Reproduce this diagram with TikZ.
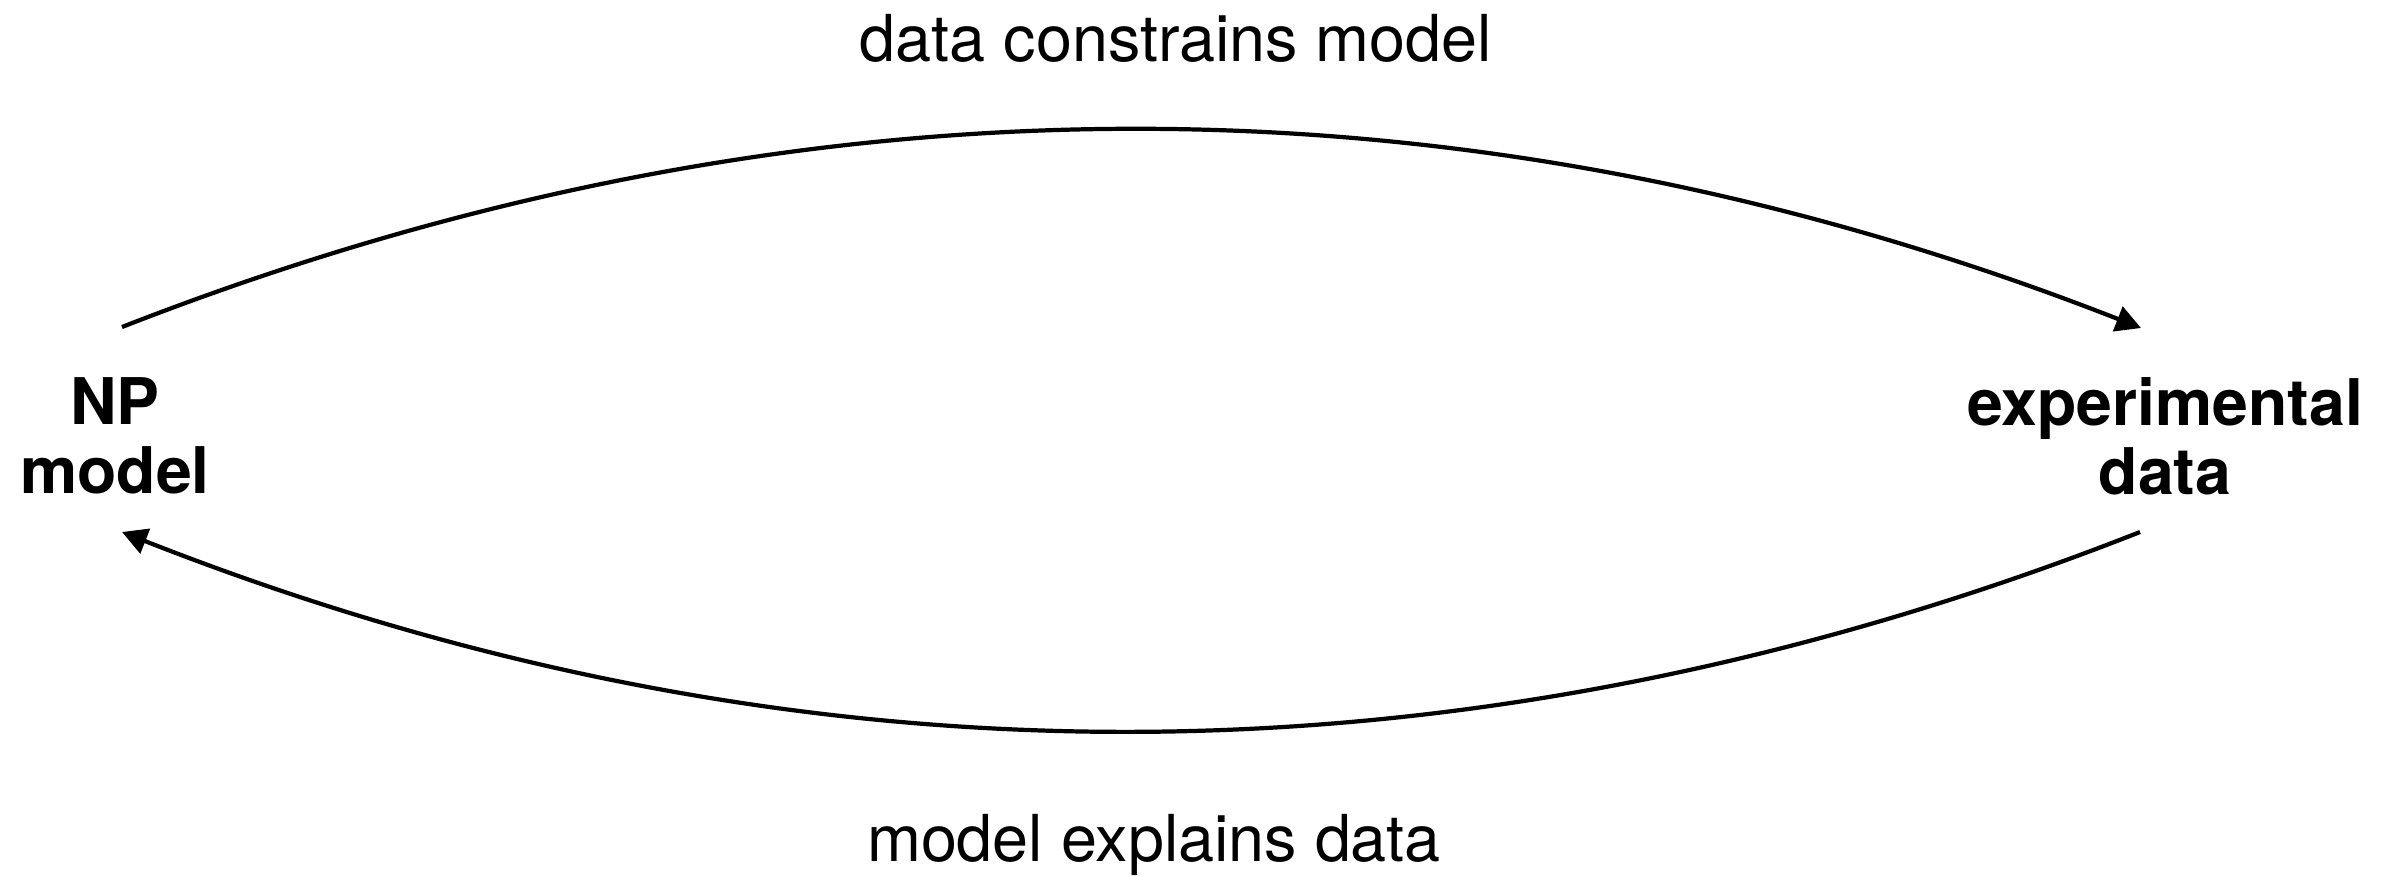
\documentclass[tikz,border=0pt]{standalone}
\usepackage{fontspec}
\setmainfont{TeX Gyre Heros}
\usetikzlibrary{arrows.meta}
\begin{document}
\begin{tikzpicture}[x=0.01cm,y=-0.01cm,
  lbl/.style={font=\fontsize{18.4}{20.8}\selectfont, inner sep=0pt, anchor=base},
  ent/.style={font=\fontsize{18.3}{19.6}\bfseries\selectfont, inner sep=0pt, align=center},
  conn/.style={line width=1.2pt, -{Triangle[length=0.25cm,width=0.26cm]}}]
\useasboundingbox (0,0) rectangle (2397,875);
\node[ent] (np) at (115,436) {NP\\model};
\node[ent] (exp) at (2165,436) {experimental\\data};
\node[lbl] (top) at (1176,61) {data constrains model};
\node[lbl] (bot) at (1154,861) {model explains data};
\coordinate (npT) at (122,327);
\coordinate (expT) at (2141,328);
\coordinate (expB) at (2140,532);
\coordinate (npB) at (122,532);
\draw[conn] (npT) .. controls (795,64) and (1467,64) .. (expT);
\draw[conn] (expB) .. controls (1467,797) and (795,797) .. (npB);
\end{tikzpicture}
\end{document}
